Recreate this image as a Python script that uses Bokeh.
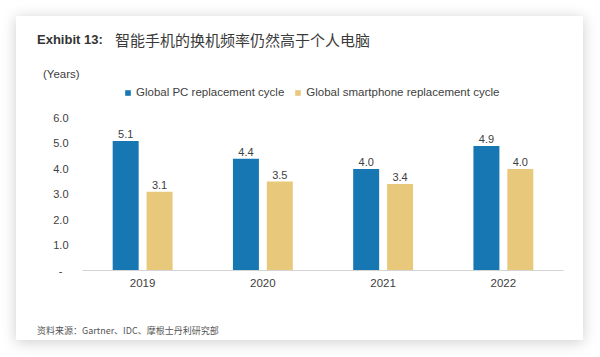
from bokeh.plotting import figure
from bokeh.models import (ColumnDataSource, Range1d, FixedTicker, Legend, LegendItem, Div)
from bokeh.layouts import column
from bokeh.core.properties import value
from bokeh.embed import file_html
from bokeh.resources import INLINE

# ---- data ----
years = ["2019", "2020", "2021", "2022"]
pc_cycle = [5.1, 4.4, 4.0, 4.9]
phone_cycle = [3.1, 3.5, 3.4, 4.0]
pc_labels = ["5.1", "4.4", "4.0", "4.9"]
phone_labels = ["3.1", "3.5", "3.4", "4.0"]
ytick_values = [0, 1, 2, 3, 4, 5, 6]
ytick_labels = ["-\u00a0\u00a0", "1.0", "2.0", "3.0", "4.0", "5.0", "6.0"]
series_names = ["Global PC replacement cycle", "Global smartphone replacement cycle"]
title_bold = "Exhibit 13:"
title_cn = "智能手机的换机频率仍然高于个人电脑"
unit_label = "(Years)"
source_note = "资料来源：Gartner、IDC、摩根士丹利研究部"

BLUE = "#1677b3"
GOLD = "#e8c97b"
TXT = "#404040"
LAT = "Liberation Sans"
CJK = "Noto Sans CJK SC"
W = 567

pos = list(range(len(years)))
off = 0.141
bw = 0.216

pc_src = ColumnDataSource(dict(x=[q + 0.5 - off for q in pos], top=pc_cycle, lab=pc_labels))
ph_src = ColumnDataSource(dict(x=[q + 0.5 + off for q in pos], top=phone_cycle, lab=phone_labels))

# ---- header ----
head_html = (
    f'<div style="position:relative;width:{W}px;height:66px;color:#333;">'
    f'<span style="position:absolute;left:21px;top:15px;line-height:18px;white-space:nowrap;'
    f'font-family:\'{LAT}\';font-weight:bold;font-size:13px;color:#333333;">{title_bold}</span>'
    f'<span style="position:absolute;left:99px;top:15px;line-height:18px;white-space:nowrap;'
    f'font-family:\'{CJK}\';font-size:15px;color:#3a3a3a;">{title_cn}</span>'
    f'<span style="position:absolute;left:27px;top:51px;line-height:14px;white-space:nowrap;'
    f'font-family:\'{LAT}\';font-size:11.5px;color:{TXT};">{unit_label}</span>'
    f'</div>'
)
head = Div(text=head_html, width=W, height=66, margin=0)

# ---- chart ----
p = figure(width=W, height=218, output_backend="svg", toolbar_location=None,
           x_range=Range1d(0, len(years)), y_range=Range1d(0, 7.40),
           min_border_left=66, min_border_right=20, min_border_top=0, min_border_bottom=30,
           margin=0)
p.background_fill_color = "white"
p.border_fill_color = "white"
p.outline_line_color = None
p.xgrid.grid_line_color = None
p.ygrid.grid_line_color = None

r1 = p.vbar(x="x", top="top", width=bw, source=pc_src, color=BLUE, line_color=None)
r2 = p.vbar(x="x", top="top", width=bw, source=ph_src, color=GOLD, line_color=None)

for src in (pc_src, ph_src):
    p.text(x="x", y="top", text="lab", source=src, text_align="center",
           text_baseline="alphabetic", y_offset=-7, text_font=value(LAT),
           text_font_size="11px", text_color=TXT)

p.xaxis.ticker = FixedTicker(ticks=[q + 0.5 for q in pos])
p.xaxis.major_label_overrides = {q + 0.5: y for q, y in zip(pos, years)}
p.xaxis.axis_line_color = "#d4d4d4"
p.xaxis.axis_line_width = 1
p.xaxis.major_tick_line_color = None
p.xaxis.minor_tick_line_color = None
p.xaxis.major_tick_out = 0
p.xaxis.major_label_standoff = 8
p.xaxis.major_label_text_font = LAT
p.xaxis.major_label_text_font_size = "11.5px"
p.xaxis.major_label_text_color = TXT

p.yaxis.ticker = FixedTicker(ticks=ytick_values)
p.yaxis.major_label_overrides = {v: s for v, s in zip(ytick_values, ytick_labels)}
p.yaxis.axis_line_color = None
p.yaxis.major_tick_line_color = None
p.yaxis.minor_tick_line_color = None
p.yaxis.major_tick_out = 0
p.yaxis.major_label_standoff = 14
p.yaxis.major_label_text_font = LAT
p.yaxis.major_label_text_font_size = "11px"
p.yaxis.major_label_text_color = TXT

legend = Legend(items=[LegendItem(label=series_names[0], renderers=[r1]),
                       LegendItem(label=series_names[1], renderers=[r2])],
                location=(42, 172), orientation="horizontal",
                glyph_width=7, glyph_height=7, label_height=12, label_standoff=5,
                spacing=10, padding=0, margin=0, border_line_color=None,
                background_fill_alpha=0,
                label_text_font=LAT, label_text_font_size="11.5px", label_text_color=TXT)
p.add_layout(legend, "center")

# ---- footer ----
foot_html = (
    f'<div style="position:relative;width:{W}px;height:40px;">'
    f'<span style="position:absolute;left:21px;top:25px;line-height:12px;white-space:nowrap;'
    f'font-family:\'{CJK}\';font-size:9px;color:#555555;">{source_note}</span>'
    f'</div>'
)
foot = Div(text=foot_html, width=W, height=40, margin=0)

card = column(head, p, foot, spacing=0, width=W, height=324, margin=(16, 0, 0, 16),
              styles={"background-color": "white",
                      "box-shadow": "0 2px 14px rgba(0,0,0,0.20)"})

open("out.html", "w").write(file_html(card, INLINE))
